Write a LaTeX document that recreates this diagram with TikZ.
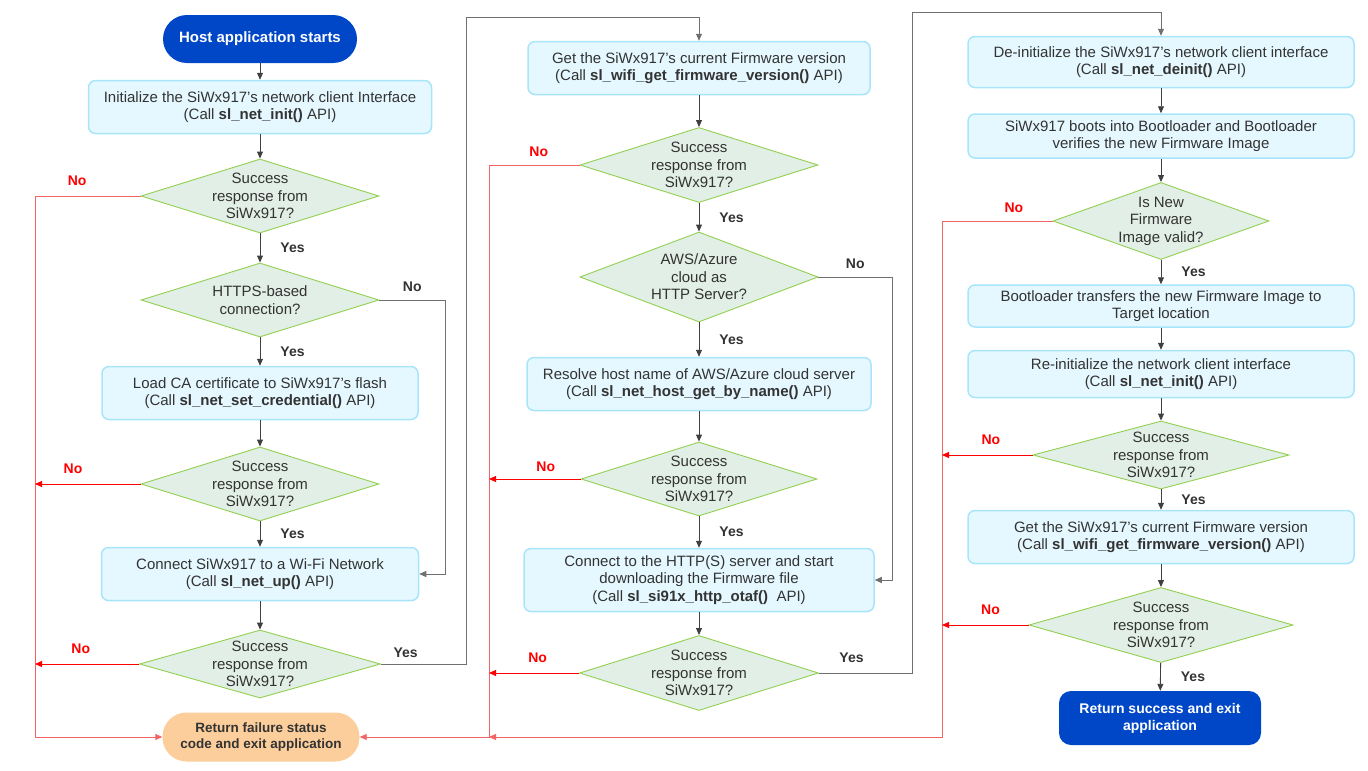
\documentclass[tikz,border=0pt]{standalone}
\usepackage{fontspec}
\setmainfont{Liberation Sans}
\usetikzlibrary{arrows.meta,
                shapes.geometric}

\definecolor{hostblue}{RGB}{0,71,200}
\definecolor{boxfill}{RGB}{229,248,255}
\definecolor{boxline}{RGB}{168,229,250}
\definecolor{decfill}{RGB}{226,239,230}
\definecolor{decline}{RGB}{146,208,80}
\definecolor{failfill}{RGB}{252,206,156}
\definecolor{linegray}{RGB}{64,64,64}
\definecolor{loopgray}{RGB}{112,112,112}
\definecolor{nored}{RGB}{255,0,0}
\definecolor{trunkred}{RGB}{244,100,100}

\begin{document}
\begin{tikzpicture}%
            [x = 1pt, y = -1pt,
             every node/.style = {font=\fontsize{15}{17.5}\selectfont, text=black!80},
             box/.style = {draw=boxline, fill=boxfill, line width=1.5pt, rounded corners=7pt, align=center},
             dec/.style = {diamond, draw=decline, fill=decfill, line width=0.9pt, inner sep=0pt},
             dtxt/.style = {align=center},
             pill/.style = {rounded corners=24pt, align=center, font=\fontsize{15}{17}\selectfont\bfseries},
             arr/.style = {draw=linegray, line width=0.9pt, -{Triangle[length=7pt,width=6pt]}},
             looparr/.style = {arr, draw=loopgray},
             noarr/.style = {draw=nored, line width=0.9pt, -{Triangle[length=7pt,width=6pt]}},
             yes/.style = {font=\fontsize{14}{16}\selectfont\bfseries, text=black!80, inner sep=2pt},
             no/.style = {yes, text=nored}]
            \useasboundingbox (0,0) rectangle (1368,771);

            % column 1
            \node [pill, fill=hostblue, text=white, minimum width=194, minimum height=48] (start) at (260,39) {Host application starts};
            \node [box, minimum width=343, minimum height=53] (b1) at (260,107) {Initialize the SiWx917’s network client Interface\\(Call \textbf{sl\_net\_init()} API)};
            \node [dec, minimum width=238, minimum height=74] (d1) at (260,196) {};
            \node [dtxt] (d1t) at (d1) {Success\\response from\\SiWx917?};
            \node [dec, minimum width=238, minimum height=74] (d2) at (260,300) {};
            \node [dtxt] (d2t) at (d2) {HTTPS-based\\connection?};
            \node [box, minimum width=316, minimum height=53] (b2) at (260,393) {Load CA certificate to SiWx917’s flash\\(Call \textbf{sl\_net\_set\_credential()} API)};
            \node [dec, minimum width=238, minimum height=74] (d3) at (260,484) {};
            \node [dtxt] (d3t) at (d3) {Success\\response from\\SiWx917?};
            \node [box, minimum width=317, minimum height=53] (b3) at (260,574) {Connect SiWx917 to a Wi-Fi Network\\(Call \textbf{sl\_net\_up()} API)};
            \node [dec, minimum width=241, minimum height=68] (d4) at (260,664) {};
            \node [dtxt] (d4t) at (d4) {Success\\response from\\SiWx917?};
            \node [pill, fill=failfill, font=\fontsize{13.5}{17}\selectfont\bfseries, minimum width=197, minimum height=49] (fail) at (261,737) {Return failure status\\code and exit application};

            % column 2
            \node [box, minimum width=342, minimum height=53] (b4) at (699,68) {Get the SiWx917’s current Firmware version\\(Call \textbf{sl\_wifi\_get\_firmware\_version()} API)};
            \node [dec, minimum width=238, minimum height=75] (d5) at (699,165) {};
            \node [dtxt] (d5t) at (d5) {Success\\response from\\SiWx917?};
            \node [dec, minimum width=238, minimum height=90] (d6) at (699,277) {};
            \node [dtxt] (d6t) at (d6) {AWS/Azure\\cloud as\\HTTP Server?};
            \node [box, minimum width=344, minimum height=53] (b5) at (699,384) {Resolve host name of AWS/Azure cloud server\\(Call \textbf{sl\_net\_host\_get\_by\_name()} API)};
            \node [dec, minimum width=236, minimum height=74] (d7) at (699,479) {};
            \node [dtxt] (d7t) at (d7) {Success\\response from\\SiWx917?};
            \node [box, minimum width=350, minimum height=63] (b6) at (699,580) {Connect to the HTTP(S) server and start\\downloading the Firmware file\\(Call \textbf{sl\_si91x\_http\_otaf()} \ API)};
            \node [dec, minimum width=239, minimum height=75] (d8) at (699,673) {};
            \node [dtxt] (d8t) at (d8) {Success\\response from\\SiWx917?};

            % column 3
            \node [box, minimum width=386, minimum height=51] (b7) at (1161,62) {De-initialize the SiWx917’s network client interface\\(Call \textbf{sl\_net\_deinit()} API)};
            \node [box, minimum width=386, minimum height=44] (b8) at (1161,136) {SiWx917 boots into Bootloader and Bootloader\\verifies the new Firmware Image};
            \node [dec, minimum width=216, minimum height=77] (d9) at (1161,221) {};
            \node [dtxt] (d9t) at (d9) {Is New\\Firmware\\Image valid?};
            \node [box, minimum width=386, minimum height=42] (b9) at (1161,306) {Bootloader transfers the new Firmware Image to\\Target location};
            \node [box, minimum width=386, minimum height=47] (b10) at (1161,374) {Re-initialize the network client interface\\(Call \textbf{sl\_net\_init()} API)};
            \node [dec, minimum width=256, minimum height=68] (d10) at (1161,455) {};
            \node [dtxt] (d10t) at (d10) {Success\\response from\\SiWx917?};
            \node [box, minimum width=386, minimum height=53] (b11) at (1161,537) {Get the SiWx917’s current Firmware version\\(Call \textbf{sl\_wifi\_get\_firmware\_version()} API)};
            \node [dec, minimum width=264, minimum height=75] (d11) at (1161,625) {};
            \node [dtxt] (d11t) at (d11) {Success\\response from\\SiWx917?};
            \node [pill, rounded corners=12pt, fill=hostblue, text=white, font=\fontsize{14}{17}\selectfont\bfseries, minimum width=202, minimum height=54] (succ) at (1160,718) {Return success and exit\\application};

            \coordinate (tA) at (35,737);
            \coordinate (tB) at (489,737);
            \coordinate (tC) at (942,737);
            \coordinate (rA) at (445,300);
            \coordinate (rB) at (466,17);
            \coordinate (rC) at (892,277);
            \coordinate (rD) at (912,12);

            \draw [arr] (start) -- (b1);
            \draw [arr] (b1) -- (d1);
            \draw [arr] (d1) -- node [yes, right=18pt] (y1) {Yes} (d2);
            \draw [arr] (d2) -- node [yes, right=18pt] (y2) {Yes} (b2);
            \draw [arr] (b2) -- (d3);
            \draw [arr] (d3) -- node [yes, right=18pt] (y3) {Yes} (b3);
            \draw [arr] (b3) -- (d4);
            \draw [looparr] (d2.east) -- node [yes, above=6pt] (n2) {No} (rA) |- (b3.east);
            \draw [looparr] (d4.east) -- node [yes, pos=0.29, above=4pt] (y4) {Yes} (d4.east -| rB) -- (rB) -| (b4.north);
            \draw [noarr, draw=trunkred] (d1.west) -- node [no, pos=0.6, above=8pt] (n1) {No} (d1.west -| tA) -- (tA) -- (fail.west);
            \draw [noarr] (d3.west) -- node [no, pos=0.64, above=8pt] (n3) {No} (d3.west -| tA);
            \draw [noarr] (d4.west) -- node [no, pos=0.56, above=8pt] (n4) {No} (d4.west -| tA);

            \draw [arr] (b4) -- (d5);
            \draw [arr] (d5) -- node [yes, right=18pt] (y5) {Yes} (d6);
            \draw [arr] (d6) -- node [yes, right=18pt] (y6) {Yes} (b5);
            \draw [arr] (b5) -- (d7);
            \draw [arr] (d7) -- node [yes, right=18pt] (y7) {Yes} (b6);
            \draw [arr] (b6) -- (d8);
            \draw [looparr] (d6.east) -- node [yes, above=6pt] (n6) {No} (rC) |- (b6.east);
            \draw [looparr] (d8.east) -- node [yes, pos=0.35, above=8pt] (y8) {Yes} (d8.east -| rD) -- (rD) -| (b7.north);
            \draw [noarr, draw=trunkred] (d5.west) -- node [no, pos=0.45, above=6pt] (n5) {No} (d5.west -| tB) -- (tB) -- (fail.east);
            \draw [noarr] (d7.west) -- node [no, pos=0.38, above=5pt] (n7) {No} (d7.west -| tB);
            \draw [noarr] (d8.west) -- node [no, pos=0.46, above=8pt] (n8) {No} (d8.west -| tB);

            \draw [arr] (b7) -- (b8);
            \draw [arr] (b8) -- (d9);
            \draw [arr] (d9) -- node [yes, right=18pt] (y9) {Yes} (b9);
            \draw [arr] (b9) -- (b10);
            \draw [arr] (b10) -- (d10);
            \draw [arr] (d10) -- node [yes, right=18pt] (y10) {Yes} (b11);
            \draw [arr] (b11) -- (d11);
            \draw [arr] (d11) -- node [yes, right=18pt] (y11) {Yes} (succ);
            \draw [noarr, draw=trunkred] (d9.west) -- node [no, pos=0.35, above=6pt] (n9) {No} (d9.west -| tC) -- (tC) -- (tB);
            \draw [noarr] (d10.west) -- node [no, pos=0.46, above=8pt] (n10) {No} (d10.west -| tC);
            \draw [noarr] (d11.west) -- node [no, pos=0.44, above=8pt] (n11) {No} (d11.west -| tC);
        \end{tikzpicture}
\end{document}
